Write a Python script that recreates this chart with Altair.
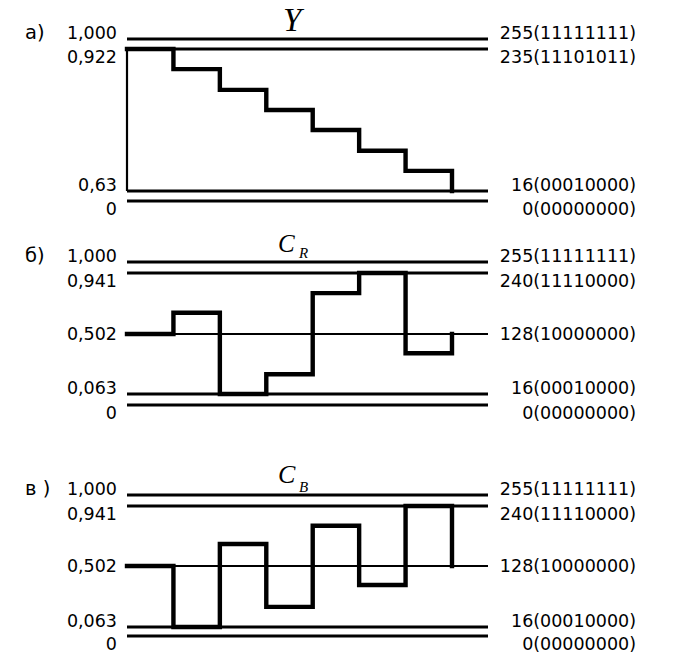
import altair as alt
import pandas as pd

# ---------------- data ----------------
step_x = [0, 1, 2, 3, 4, 5, 6, 7]
y_values = [235, 204, 172, 141, 110, 78, 47, 16]
cr_values = [128, 167, 16, 53, 203, 240, 92, 128]
cb_values = [128, 16, 169, 53, 203, 93, 240, 128]

levels_a = [255, 235, 16, 0]
left_a = ["1,000", "0,922", "0,63", "0"]
right_a = ["255(11111111)", "235(11101011)", "16(00010000)", "0(00000000)"]

levels_bc = [255, 240, 128, 16, 0]
left_bc = ["1,000", "0,941", "0,502", "0,063", "0"]
right_bc = ["255(11111111)", "240(11110000)", "128(10000000)", "16(00010000)", "0(00000000)"]

panel_letters = ["а)", "б)", "в )"]
title_main = ["Y", "C", "C"]
title_sub = ["", "R", "B"]

# ---------------- layout ----------------
W, H = 679, 665
X_RANGE = [127, 452]          # pixel range of step index 0..7
RULE_X0, RULE_X1 = 127, 488
LEFT_X, RIGHT_X, LETTER_X = 117, 636, 25
ROLE = {255: "up", 235: "down", 240: "down", 128: "mid", 16: "up", 0: "down"}
ROLE_DY = {"up": 0, "down": 14, "mid": 6}
SANS = "DejaVu Sans"
SERIF = "Liberation Serif"
FS = 17.5

xscale = alt.Scale(domain=[0, 7], range=X_RANGE)


def panel(levels, left, right, steps, letter, main, sub, ydom, yrng,
          main_size, main_dy, main_x, sub_x, sub_dy, vline=False):
    ysc = alt.Scale(domain=ydom, range=yrng, nice=False, zero=False)
    lev = pd.DataFrame({
        "level": levels, "left": left, "right": right,
        "role": [ROLE[v] for v in levels],
    })
    st = pd.DataFrame({"x": step_x, "v": steps})
    base = alt.Chart(lev)
    layers = []
    # horizontal reference lines
    for thin, w in [(False, 2.8), (True, 2.2)]:
        cond = "datum.level == 128" if thin else "datum.level != 128"
        layers.append(
            base.transform_filter(cond).mark_rule(color="black", strokeWidth=w).encode(
                x=alt.value(RULE_X0), x2=alt.value(RULE_X1),
                y=alt.Y("level:Q", scale=ysc, axis=None),
            )
        )
    if vline:
        layers.append(
            alt.Chart(pd.DataFrame({"a": [levels[1]], "b": [levels[2]], "x": [0]}))
            .mark_rule(color="black", strokeWidth=2.2)
            .encode(x=alt.X("x:Q", scale=xscale, axis=None),
                    y=alt.Y("a:Q", scale=ysc, axis=None), y2="b:Q")
        )
    # step line
    layers.append(
        alt.Chart(st).mark_line(interpolate="step-after", color="black",
                                strokeWidth=4.4, strokeCap="square", strokeJoin="miter")
        .encode(x=alt.X("x:Q", scale=xscale, axis=None),
                y=alt.Y("v:Q", scale=ysc, axis=None))
    )
    # labels
    for role, dy in ROLE_DY.items():
        f = base.transform_filter(f"datum.role == '{role}'")
        layers.append(
            f.mark_text(align="right", baseline="alphabetic", font=SANS,
                        fontSize=FS, dy=dy, color="black")
            .encode(x=alt.value(LEFT_X), y=alt.Y("level:Q", scale=ysc, axis=None),
                    text="left:N")
        )
        layers.append(
            f.mark_text(align="right", baseline="alphabetic", font=SANS,
                        fontSize=FS, dy=dy, color="black")
            .encode(x=alt.value(RIGHT_X), y=alt.Y("level:Q", scale=ysc, axis=None),
                    text="right:N")
        )
    top = pd.DataFrame({"level": [255], "letter": [letter], "main": [main], "sub": [sub]})
    tb = alt.Chart(top)
    layers.append(
        tb.mark_text(align="left", baseline="alphabetic", font=SANS, fontSize=19.5,
                     color="black")
        .encode(x=alt.value(LETTER_X), y=alt.Y("level:Q", scale=ysc, axis=None),
                text="letter:N")
    )
    layers.append(
        tb.mark_text(align="left", baseline="alphabetic", font=SERIF, fontSize=main_size,
                     fontStyle="italic", dy=main_dy, color="black")
        .encode(x=alt.value(main_x), y=alt.Y("level:Q", scale=ysc, axis=None),
                text="main:N")
    )
    if sub:
        layers.append(
            tb.mark_text(align="left", baseline="alphabetic", font=SERIF, fontSize=15,
                         fontStyle="italic", dy=sub_dy, color="black")
            .encode(x=alt.value(sub_x), y=alt.Y("level:Q", scale=ysc, axis=None),
                    text="sub:N")
        )
    return alt.layer(*layers)


pa = panel(levels_a, left_a, right_a, y_values, panel_letters[0], title_main[0], title_sub[0],
           [0, 16, 235, 255], [201, 191, 49, 39], 33, -8, 283, 0, 0, vline=True)
pb = panel(levels_bc, left_bc, right_bc, cr_values, panel_letters[1], title_main[1], title_sub[1],
           [0, 16, 128, 240, 255], [405, 394, 334, 273, 262], 25, -10, 278, 299, -4)
pc = panel(levels_bc, left_bc, right_bc, cb_values, panel_letters[2], title_main[2], title_sub[2],
           [0, 16, 128, 240, 255], [636, 627, 566, 506, 495], 26, -12, 278, 299, -3)

chart = (
    alt.layer(pa, pb, pc)
    .resolve_scale(y="independent")
    .properties(width=W, height=H, padding=0, autosize="none",
                background="white")
    .configure_view(stroke=None)
)

chart.save("out.html", embed_options={"renderer": "svg", "actions": False})
